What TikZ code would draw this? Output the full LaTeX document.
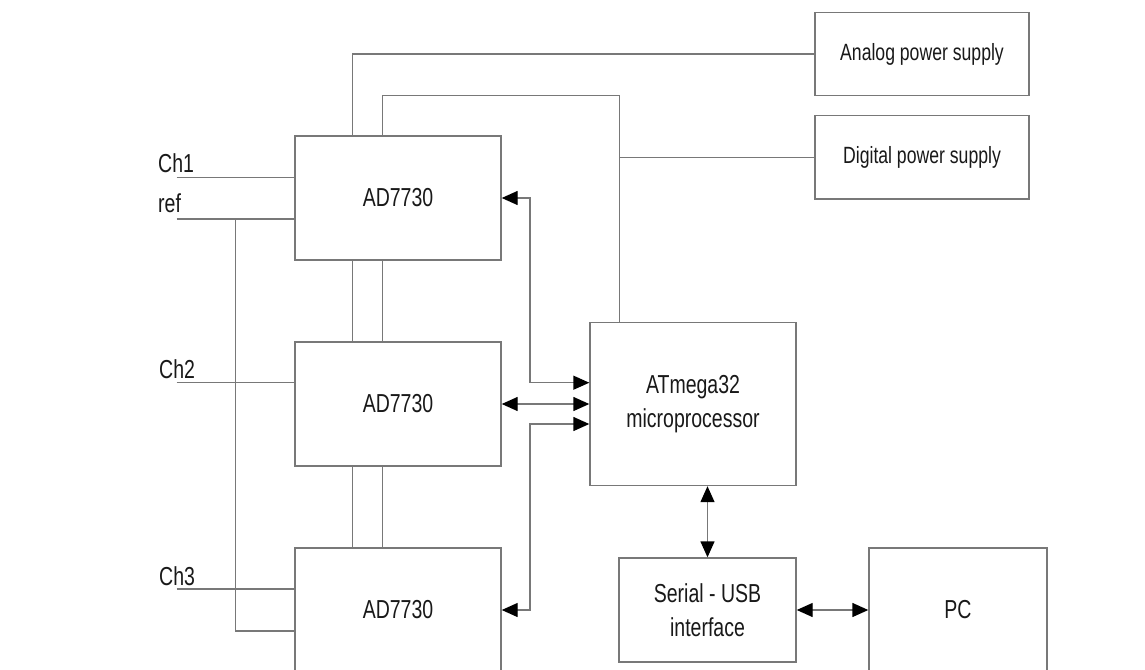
\documentclass[tikz,border=0pt]{standalone}
\usepackage{fontspec}
\setmainfont{Liberation Sans}[FakeStretch=0.75]
\usetikzlibrary{arrows.meta,calc}
\definecolor{linegray}{RGB}{120,120,120}
\definecolor{txt}{RGB}{25,25,25}
\begin{document}
\begin{tikzpicture}[x=1pt,y=-1pt,
  every node/.style={text=txt,font=\fontsize{26}{33.5}\selectfont},
  blk/.style={draw=linegray,line width=1.4pt,rectangle,inner sep=0pt,align=center},
  psu/.style={blk,minimum width=214,minimum height=83.5,font=\fontsize{23.5}{28}\selectfont},
  wire/.style={draw=linegray,line width=1.4pt},
  biarrow/.style={wire,{Triangle[length=16pt,width=14pt,color=black]}-{Triangle[length=16pt,width=14pt,color=black]}},
  lbl/.style={anchor=base west,inner sep=0pt}]
\useasboundingbox (0,0) rectangle (1145,669);
\clip (0,0) rectangle (1145,669);
\fill[white] (0,0) rectangle (1145,669);

% blocks
\node[blk,minimum width=206,minimum height=124] (ad1) at (398,198) {AD7730};
\node[blk,minimum width=206,minimum height=124] (ad2) at (398,404) {AD7730};
\node[blk,minimum width=206,minimum height=124] (ad3) at (398,610) {AD7730};
\node[blk,minimum width=206,minimum height=163] (micro) at (693,404) {ATmega32\\microprocessor};
\node[blk,minimum width=177,minimum height=104] (serial) at (707.5,610) {Serial - USB\\interface};
\node[blk,minimum width=178,minimum height=124] (pc) at (958,610) {PC};
\node[psu] (analog) at (922,54) {Analog power supply};
\node[psu] (digital) at (922,157.3) {Digital power supply};

% labels
\node[lbl] (lch1) at (158,172.3) {Ch1};
\node[lbl] (lref) at (158,212.3) {ref};
\node[lbl] (lch2) at (159,378.3) {Ch2};
\node[lbl] (lch3) at (159,585) {Ch3};

% helper coordinates
\coordinate (ax) at (352.7,0);
\coordinate (dx) at (382.7,0);
\coordinate (jx) at (619.3,0);
\coordinate (bxx) at (530,0);
\coordinate (busx) at (235.7,0);
\coordinate (ch1) at (176.7,177.3);
\coordinate (ref) at (176.7,219);
\coordinate (ch2) at (176.7,382.7);
\coordinate (ch3) at (176.7,589);

% analog supply
\draw[wire] (analog.west) -| (ad1.north -| ax);
\draw[wire] (ad1.south -| ax) -- (ad2.north -| ax);
\draw[wire] (ad2.south -| ax) -- (ad3.north -| ax);
% digital supply
\draw[wire] (ad1.north -| dx) -- ++(0,-40) -| (micro.north -| jx);
\draw[wire] (ad1.south -| dx) -- (ad2.north -| dx);
\draw[wire] (ad2.south -| dx) -- (ad3.north -| dx);
\draw[wire] (digital.west) -- (digital.west -| jx);

% inputs
\draw[wire] (ch1) -- (ch1 -| ad1.west);
\draw[wire] (ref) -- (ref -| ad1.west);
\draw[wire] (ch2) -- (ch2 -| ad2.west);
\draw[wire] (ch3) -- (ch3 -| ad3.west);
\draw[wire] (ref -| busx) |- ($(ad3.west)+(0,21)$);
\draw[wire] ($(ad2.west)+(0,20)$) -- ($(ad2.west)+(0,20)$ -| busx);

% data buses
\draw[biarrow] (ad1.east) -- (ad1.east -| bxx) |- ($(micro.west)+(0,-21.3)$);
\draw[biarrow] (ad2.east) -- (micro.west);
\draw[biarrow] (ad3.east) -- (ad3.east -| bxx) |- ($(micro.west)+(0,20)$);
\draw[biarrow] (micro.south -| serial.north) -- (serial.north);
\draw[biarrow] (serial.east) -- (pc.west);
\end{tikzpicture}
\end{document}
